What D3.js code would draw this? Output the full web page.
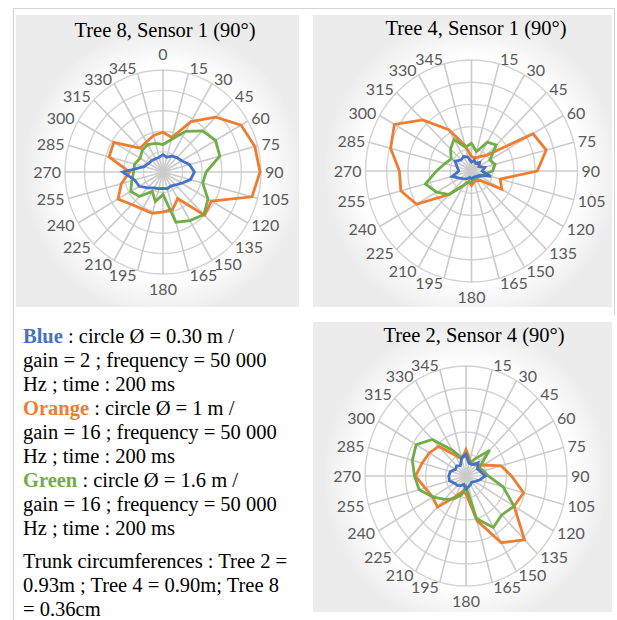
<!DOCTYPE html>
<html><head><meta charset="utf-8">
<script src="https://cdn.jsdelivr.net/npm/d3@7"></script>
<style>body{margin:0;background:#fff}</style></head>
<body><svg id="chart" width="617" height="620"></svg>
<script>
// ---------- data ----------
const angleLabels = ["0","15","30","45","60","75","90","105","120","135","150","165",
                     "180","195","210","225","240","255","270","285","300","315","330","345"];
const ringValues = [20, 40, 60, 80, 100];
const seriesNames = ["Orange", "Green", "Blue"];
const seriesColors = ["#ED7D31", "#70AD47", "#4472C4"];

const titles = ["Tree 8, Sensor 1 (90°)", "Tree 4, Sensor 1 (90°)", "Tree 2, Sensor 4 (90°)"];

// Tree 8, Sensor 1
const tree8Orange = [39,35,57,76,92,97,99,94,57,60,30,38,39,42,42,45,53,44,34,57,58,33,34,37];
const tree8Green  = [27,33,46,57,62,60,44,42,53,59,55,51,22,30,22,34,38,33,30,30,27,30,31,29];
const tree8Blue   = [17,15,18,20,22,28,32,29,22,18,16,17,16,17,18,22,28,30,41,20,17,16,15,15];

// Tree 4, Sensor 1
const tree4Orange = [13,12,15,20,67,73,62,28,33,12,10,10,13,10,15,30,60,69,68,79,84,65,43,24];
const tree4Green  = [25,18,30,33,20,23,20,12,10,8,8,7,10,10,15,30,38,45,33,26,22,28,33,22];
const tree4Blue   = [8,10,8,11,8,13,10,19,8,7,6,6,7,6,8,10,13,19,12,14,18,14,15,13];

// Tree 2, Sensor 4
const tree2Orange = [24,15,12,14,20,36,45,59,55,82,70,42,16,15,22,40,38,42,50,45,42,38,22,16];
const tree2Green  = [18,12,18,33,15,18,22,38,55,50,54,40,10,18,24,30,38,48,51,55,57,47,27,17];
const tree2Blue   = [20,12,12,17,13,15,19,14,10,8,9,10,12,8,10,12,13,17,17,16,12,13,11,17];

const legendLines = [
  [["Blue", "#4472C4", true], [" : circle Ø = 0.30 m /", "#000", false]],
  [["gain = 2 ; frequency = 50 000", "#000", false]],
  [["Hz ; time : 200 ms", "#000", false]],
  [["Orange", "#ED7D31", true], [" : circle Ø = 1 m /", "#000", false]],
  [["gain = 16 ; frequency = 50 000", "#000", false]],
  [["Hz ; time : 200 ms", "#000", false]],
  [["Green", "#70AD47", true], [" : circle Ø = 1.6 m /", "#000", false]],
  [["gain = 16 ; frequency = 50 000", "#000", false]],
  [["Hz ; time : 200 ms", "#000", false]],
  [["Trunk circumferences : Tree 2 =", "#000", false]],
  [["0.93m ; Tree 4 = 0.90m; Tree 8", "#000", false]],
  [["= 0.36cm", "#000", false]]
];

// ---------- layout ----------
const panels = [
  {x:16, y:15, w:283, h:292, cx:163, cy:172, rx:98, ry:102, tx:165, ty:37, zero:true,
   series:[tree8Orange, tree8Green, tree8Blue], title:titles[0]},
  {x:313, y:15, w:299, h:292, cx:471.5, cy:171, rx:106, ry:111, tx:476, ty:35, zero:false,
   series:[tree4Orange, tree4Green, tree4Blue], title:titles[1]},
  {x:313, y:322, w:299, h:290, cx:466, cy:476, rx:101, ry:110, tx:474, ty:342, zero:false,
   series:[tree2Orange, tree2Green, tree2Blue], title:titles[2]}
];

const svg = d3.select("#chart");
const defs = svg.append("defs");
const grad = defs.append("radialGradient").attr("id", "glow");
grad.append("stop").attr("offset", "0%").attr("stop-color", "#fff").attr("stop-opacity", 1);
grad.append("stop").attr("offset", "74%").attr("stop-color", "#fff").attr("stop-opacity", 1);
grad.append("stop").attr("offset", "100%").attr("stop-color", "#fff").attr("stop-opacity", 0);

// outer frame
svg.append("path").attr("d", "M13.5,620 V8.5 H614.5 V315")
  .attr("fill", "none").attr("stroke", "#d4d4d4").attr("stroke-width", 1);

const angleScale = d3.scaleLinear().domain([0, 360]).range([0, 2 * Math.PI]);
const capH = 11.6;

panels.forEach(p => {
  const g = svg.append("g");
  g.append("rect").attr("x", p.x).attr("y", p.y).attr("width", p.w).attr("height", p.h)
    .attr("fill", "#ececec");
  g.append("ellipse").attr("cx", p.cx).attr("cy", p.cy)
    .attr("rx", p.rx + 42).attr("ry", p.ry + 42).attr("fill", "url(#glow)");

  const rX = d3.scaleLinear().domain([0, 100]).range([0, p.rx]);
  const rY = d3.scaleLinear().domain([0, 100]).range([0, p.ry]);
  const px = (a, v) => p.cx + rX(v) * Math.sin(angleScale(a));
  const py = (a, v) => p.cy - rY(v) * Math.cos(angleScale(a));

  // rings
  g.selectAll(".ring").data(ringValues).join("ellipse")
    .attr("cx", p.cx).attr("cy", p.cy)
    .attr("rx", d => rX(d)).attr("ry", d => rY(d))
    .attr("fill", "none").attr("stroke", "#d3d3d3").attr("stroke-width", 1.4);
  // spokes
  g.selectAll(".spoke").data(angleLabels).join("line")
    .attr("x1", p.cx).attr("y1", p.cy)
    .attr("x2", d => px(+d, 100)).attr("y2", d => py(+d, 100))
    .attr("stroke", "#cbcbcb").attr("stroke-width", 1.6);

  // series
  const line = d3.line().curve(d3.curveLinearClosed);
  p.series.forEach((vals, i) => {
    const pts = vals.map((v, k) => [px(+angleLabels[k], v), py(+angleLabels[k], v)]);
    g.append("path").attr("d", line(pts)).attr("fill", "none")
      .attr("stroke", seriesColors[i]).attr("stroke-width", 2.8)
      .attr("stroke-linejoin", "miter");
  });

  // angle labels
  angleLabels.forEach(lbl => {
    const a = angleScale(+lbl);
    const s = Math.sin(a), c = Math.cos(a);
    if (lbl === "0" && !p.zero) return;
    let x, y, anchor;
    if (Math.abs(s) < 0.05) {
      anchor = "middle";
      x = p.cx;
      y = c > 0 ? p.cy - p.ry - 10 : p.cy + p.ry + 9 + capH;
    } else {
      anchor = s > 0 ? "start" : "end";
      x = p.cx + (p.rx + 4) * s;
      y = p.cy - (p.ry + 5) * c + capH / 2;
    }
    g.append("text").attr("x", x).attr("y", y).attr("text-anchor", anchor)
      .attr("font-family", "Lato, 'Open Sans', sans-serif").attr("font-size", 16)
      .attr("fill", "#595959").text(lbl);
  });

  // title
  g.append("text").attr("x", p.tx).attr("y", p.ty).attr("text-anchor", "middle")
    .attr("font-family", "'Liberation Serif', 'Times New Roman', serif")
    .attr("font-size", 20.5).attr("fill", "#000").text(p.title);
});

// legend text
const legendBaselines = [343, 367, 391, 415, 439, 463, 487, 511, 535, 568, 592, 616];
const lg = svg.append("g").attr("font-family", "'Liberation Serif', 'Times New Roman', serif")
  .attr("font-size", 20.5);
legendLines.forEach((parts, i) => {
  const t = lg.append("text").attr("x", 23).attr("y", legendBaselines[i]);
  parts.forEach(([txt, col, bold]) => {
    t.append("tspan").attr("fill", col).attr("font-weight", bold ? "bold" : "normal")
      .style("white-space", "pre").text(txt);
  });
});
</script>
</body></html>
